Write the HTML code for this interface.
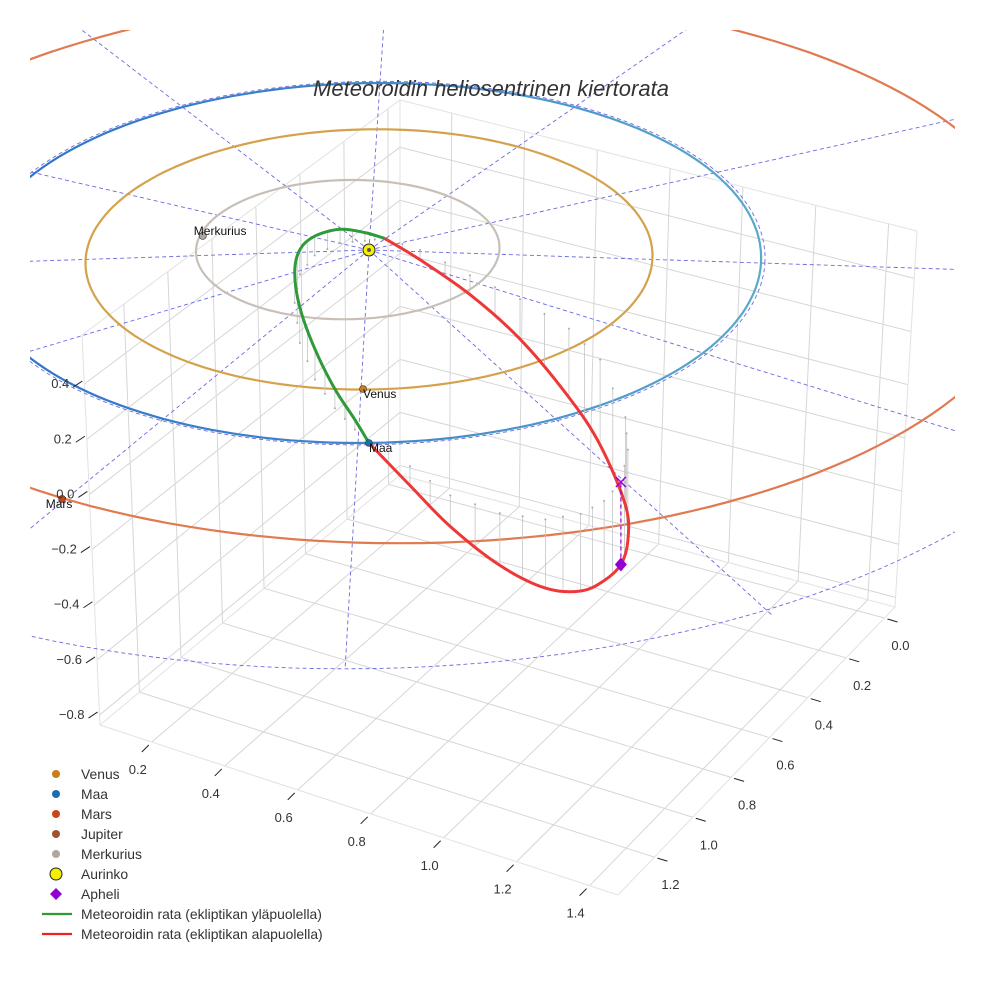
<!DOCTYPE html>
<html><head><meta charset="utf-8"><style>
body{margin:0;background:#fff}
svg text{font-family:"Liberation Sans",sans-serif}
</style></head><body>
<svg id="chart" width="984" height="984" viewBox="0 0 984 984" xmlns="http://www.w3.org/2000/svg">
<defs><clipPath id="clip"><rect x="30" y="30" width="925" height="930"/></clipPath>
<linearGradient id="earthGrad" x1="0" y1="0" x2="1" y2="0"><stop offset="0" stop-color="#2f72c8"/><stop offset="0.5" stop-color="#3f86c8"/><stop offset="1" stop-color="#5aaacc"/></linearGradient></defs>
<rect width="984" height="984" fill="#fff"/>
<g id="grid"></g>
<g id="plot" clip-path="url(#clip)"></g>
<g id="axes"></g>
<text x="491" y="96" text-anchor="middle" font-size="22" font-style="italic" fill="#333">Meteoroidin heliosentrinen kiertorata</text>
<g id="legend"></g>
</svg>
<script>
// axis ticks
const xTicks=[0.2,0.4,0.6,0.8,1.0,1.2,1.4];
const yTicks=[0.0,0.2,0.4,0.6,0.8,1.0,1.2];
const zTicks=[-0.8,-0.6,-0.4,-0.2,0.0,0.2,0.4];
const xRange=[0.058,1.478], yRange=[1.39,-0.055], zRange=[-0.836,0.578];
// planets: orbit radii (AU), orbit centre offsets and positions
const planetNames=["Merkurius","Venus","Maa","Mars"];
const orbitRadii=[0.387,0.723,1.0,1.524];
const orbitCx=[-0.055,0,0,0.116];
const orbitCy=[0.03,0,0,0.005];
const orbitStretch=[1,1,1,1.035];
const planetX=[-0.427,0.005,0.028,-0.722];
const planetY=[0.106,-0.72,-1,-1.273];
const dashedRadii=[1.01,2.17];
const dashedStretch=[1.0,0.93];
const radialAngles=[0,30,60,90,120,150,180,210,240,270,300,330];
// meteoroid orbit samples (AU)
const orbX=[.028,-.01,-.064,-.119,-.163,-.182,-.173,-.138,-.075,-.012,.038,.13,.261,.392,.521,.605,.678,.689,.676,.636,.578,.489,.372,.243,.136,.028];
const orbY=[-1,-.93,-.82,-.67,-.48,-.27,-.12,-.02,.045,.055,.07,.01,-.12,-.24,-.39,-.55,-.85,-1.02,-1.19,-1.29,-1.36,-1.39,-1.36,-1.27,-1.12,-1];
const orbZ=[0,.036,.07,.11,.13,.11,.09,.07,.05,.03,0,-.036,-.07,-.145,-.25,-.31,-.32,-.33,-.30,-.29,-.28,-.25,-.19,-.113,-.07,0];
const splitIndex=10, aphelionIndex=18;

const NS="http://www.w3.org/2000/svg";
function mk(tag,attrs,parent){const e=document.createElementNS(NS,tag);for(const k in attrs)e.setAttribute(k,attrs[k]);parent.appendChild(e);return e;}
function P(x,y,z){const r=Math.hypot(x,y);return [369+392*x+11*y,250-180*y+13*r-275*z];}
function Pc(x,y,f,rr){return [369+392*f*x+11*y,250-180*y+13*rr];}
// box corners
const TL=[82,335],BL=[100,725],TB=[400,100],BB=[400,475],TR=[917,231],BR=[895,607],F=[618,895];
const L=(a,b,t)=>[a[0]+(b[0]-a[0])*t,a[1]+(b[1]-a[1])*t];
const fx=v=>(v-xRange[0])/(xRange[1]-xRange[0]);
const fy=v=>(v-yRange[0])/(yRange[1]-yRange[0]);
const fz=v=>(v-zRange[0])/(zRange[1]-zRange[0]);
const grid=document.getElementById('grid'),plot=document.getElementById('plot'),axes=document.getElementById('axes');
function line(a,b,st,par,name){const e=mk('line',{x1:a[0],y1:a[1],x2:b[0],y2:b[1],stroke:st.c,'stroke-width':st.w||1,'stroke-dasharray':st.d||'none'},par);return e;}
const gs={c:'#d6d6d6',w:1};
xTicks.forEach(v=>{const t=fx(v);line(L(BL,F,t),L(BB,BR,t),gs,grid,'grid-x');line(L(BB,BR,t),L(TB,TR,t),gs,grid,'grid-x-back');});
yTicks.forEach(v=>{const t=fy(v);line(L(F,BR,t),L(BL,BB,t),gs,grid,'grid-y');line(L(BL,BB,t),L(TL,TB,t),gs,grid,'grid-y-left');});
zTicks.forEach(v=>{const t=fz(v);const a=L(BL,TL,t),b=L(BB,TB,t),c=L(BR,TR,t);line(a,b,gs,grid,'grid-z-left');line(b,c,gs,grid,'grid-z-back');});
const es={c:'#e2e2e2',w:1};
[[BL,F],[F,BR],[BL,TL],[BB,TB],[BR,TR],[BL,BB],[BB,BR],[TL,TB],[TB,TR]].forEach(s=>line(s[0],s[1],es,grid,'axis-edge'));
// ticks
xTicks.forEach(v=>{const p=L(BL,F,fx(v));line([p[0]-3,p[1]+3],[p[0]-10,p[1]+10],{c:'#222'},axes,'x-tick');
 const t=mk('text',{x:p[0]-14,y:p[1]+32,'font-size':13,fill:'#333','text-anchor':'middle'},axes);t.textContent=v.toFixed(1);});
yTicks.forEach(v=>{const p=L(F,BR,fy(v));line([p[0]+3,p[1]+1],[p[0]+13,p[1]+4],{c:'#222'},axes,'y-tick');
 const t=mk('text',{x:p[0]+16,y:p[1]+32,'font-size':13,fill:'#333','text-anchor':'middle'},axes);t.textContent=v.toFixed(1);});
zTicks.forEach(v=>{const p=L(BL,TL,fz(v));line([p[0]-2,p[1]-3],[p[0]-11,p[1]+3],{c:'#222'},axes,'z-tick');
 const t=mk('text',{x:p[0]-15,y:p[1]+4,'font-size':13,fill:'#333','text-anchor':'end'},axes);t.textContent=(v<0?'\u2212':'')+Math.abs(v).toFixed(1);});
// circle helper
function circlePath(r,cx,cy,f){let d='';for(let i=0;i<=180;i++){const a=i/180*2*Math.PI;const p=Pc(cx+r*Math.cos(a),cy+r*Math.sin(a),f,r);d+=(i?'L':'M')+p[0].toFixed(1)+' '+p[1].toFixed(1);}return d;}
// radial dashed lines
radialAngles.forEach(a=>{const r=a*Math.PI/180;const s=Pc(0,0,1,0);let d='M'+s[0]+' '+s[1];for(let i=1;i<=20;i++){const rr=2.17*i/20;const p=Pc(rr*Math.cos(r),rr*Math.sin(r),1,rr);d+='L'+p[0].toFixed(1)+' '+p[1].toFixed(1);}
 const e=mk('path',{d:d,fill:'none',stroke:'#6a6ae0','stroke-width':0.9,'stroke-dasharray':'4,3'},plot);});
dashedRadii.forEach((r,i)=>{const e=mk('path',{d:circlePath(r,0,0,dashedStretch[i]),fill:'none',stroke:'#6a6ae0','stroke-width':0.9,'stroke-dasharray':'4,3'},plot);});
const orbitColors=['#c8c0b8','#d4a24c','url(#earthGrad)','#e07a50'];
orbitRadii.forEach((r,i)=>{const e=mk('path',{d:circlePath(r,orbitCx[i],orbitCy[i],orbitStretch[i]),fill:'none',stroke:orbitColors[i],'stroke-width':2.2},plot);});
// stems
const proj=orbX.map((x,i)=>P(x,orbY[i],orbZ[i]));
const projE=orbX.map((x,i)=>P(x,orbY[i],0));
for(let i=1;i<orbX.length-1;i++){for(const t of [0,0.5]){if(t&&i==orbX.length-2)continue;const j=i+1;
 const x=orbX[i]+(orbX[j]-orbX[i])*t,y=orbY[i]+(orbY[j]-orbY[i])*t,z=orbZ[i]+(orbZ[j]-orbZ[i])*t;
 const a=P(x,y,z),b=P(x,y,0);line(a,b,{c:'#c4c4c4',w:0.8},plot,'stem');
 const c=mk('circle',{cx:b[0],cy:b[1],r:1,fill:'#aaa'},plot);}}
function crPath(pts){let d='M'+pts[0][0]+' '+pts[0][1];for(let i=0;i<pts.length-1;i++){const p0=pts[Math.max(0,i-1)],p1=pts[i],p2=pts[i+1],p3=pts[Math.min(pts.length-1,i+2)];
 d+='C'+(p1[0]+(p2[0]-p0[0])/6).toFixed(1)+' '+(p1[1]+(p2[1]-p0[1])/6).toFixed(1)+' '+(p2[0]-(p3[0]-p1[0])/6).toFixed(1)+' '+(p2[1]-(p3[1]-p1[1])/6).toFixed(1)+' '+p2[0].toFixed(1)+' '+p2[1].toFixed(1);}return d;}
const g=mk('path',{d:crPath(proj.slice(0,splitIndex+1)),fill:'none',stroke:'#2e9a3a','stroke-width':3},plot);
const rd=mk('path',{d:crPath(proj.slice(splitIndex)),fill:'none',stroke:'#ee3838','stroke-width':3},plot);
// aphelion
const ap=proj[aphelionIndex],ae=projE[aphelionIndex];
line(ap,ae,{c:'#9400d3',w:1.2,d:'4,3'},plot,'aphelion-stem');
const xm=mk('path',{d:`M${ae[0]-5} ${ae[1]-5}L${ae[0]+5} ${ae[1]+5}M${ae[0]-5} ${ae[1]+5}L${ae[0]+5} ${ae[1]-5}`,stroke:'#9400d3','stroke-width':1.5},plot);
const dm=mk('path',{d:`M${ap[0]} ${ap[1]-7}L${ap[0]+6} ${ap[1]}L${ap[0]} ${ap[1]+7}L${ap[0]-6} ${ap[1]}Z`,fill:'#9400d3'},plot);
// planets
const planetColors=['#b0a8a0','#cc7a1a','#1a6fb0','#c8461a'];
planetNames.forEach((n,i)=>{const p=Pc(planetX[i],planetY[i],orbitStretch[i],orbitRadii[i]);
 const c=mk('circle',{cx:p[0],cy:p[1],r:3.5,fill:planetColors[i],stroke:'#333','stroke-width':0.6},plot);
 const t=mk('text',{x:n=='Mars'?p[0]-3:(n=='Merkurius'?p[0]-9:p[0]),y:n=='Merkurius'?p[1]-1:p[1]+9,'font-size':12,fill:'#111','text-anchor':n=='Mars'?'middle':'start'},plot);t.textContent=n;});
const s=P(0,0,0);const sun=mk('circle',{cx:s[0],cy:s[1],r:6,fill:'#f4f000',stroke:'#222','stroke-width':1},plot);
const sd=mk('circle',{cx:s[0],cy:s[1],r:2,fill:'#555'},plot);
// legend
const leg=document.getElementById('legend');
const legLabels=["Venus","Maa","Mars","Jupiter","Merkurius","Aurinko","Apheli","Meteoroidin rata (ekliptikan yläpuolella)","Meteoroidin rata (ekliptikan alapuolella)"];
const legColors=['#cc7a1a','#1a6fb0','#c8461a','#a0522d','#b0a8a0','#f4f000','#9400d3','#2e9a3a','#ee2020'];
legLabels.forEach((lab,i)=>{const y=774+i*20;let m;
 if(i<5)m=mk('circle',{cx:56,cy:y,r:4,fill:legColors[i]},leg);
 else if(i==5)m=mk('circle',{cx:56,cy:y,r:6,fill:legColors[i],stroke:'#222'},leg);
 else if(i==6)m=mk('path',{d:`M56 ${y-6}L62 ${y}L56 ${y+6}L50 ${y}Z`,fill:legColors[i]},leg);
 else m=mk('line',{x1:42,y1:y,x2:72,y2:y,stroke:legColors[i],'stroke-width':2.2},leg);
 
 const t=mk('text',{x:81,y:y+5,'font-size':13.9,fill:'#333'},leg);t.textContent=lab;});
</script>
</body></html>
